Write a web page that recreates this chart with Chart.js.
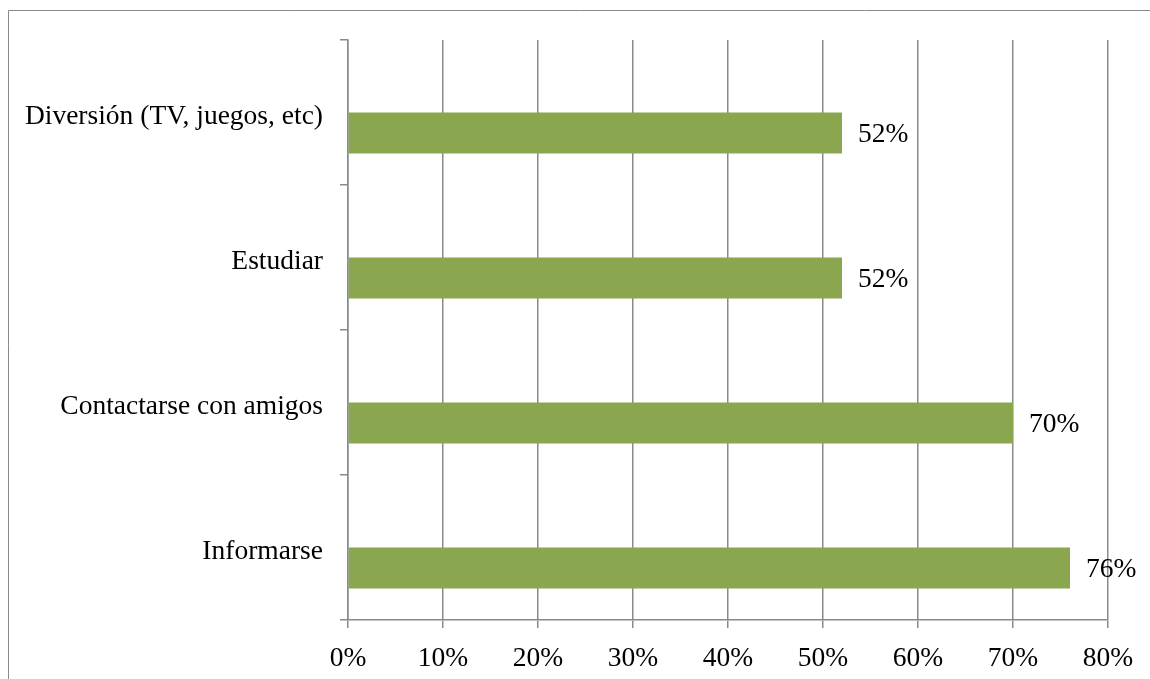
<!DOCTYPE html>
<html lang="es">
<head>
<meta charset="UTF-8">
<title>Usos de Internet</title>
<script src="https://cdn.jsdelivr.net/npm/chart.js"></script>
<style>
  html, body { margin: 0; padding: 0; background: #fff; }
  #wrap { width: 1150px; height: 679px; position: relative; }
</style>
</head>
<body>
<div id="wrap"><canvas id="chart" width="1150" height="679"></canvas></div>
<script>
// categorias de arriba hacia abajo
const categorias = ['Diversión (TV, juegos, etc)', 'Estudiar', 'Contactarse con amigos', 'Informarse'];
const porcentajes = [52, 52, 70, 76];
const serieVacia = [null, null, null, null];

const gris = '#8a8a8a';
const verde = '#8aa64f';
const fuente = { family: "'Liberation Serif', 'DejaVu Serif', serif", size: 27.5 };

// marco del grafico (solo arriba e izquierda se ven)
const marco = {
  id: 'marco',
  beforeDraw(chart) {
    const ctx = chart.ctx;
    ctx.save();
    ctx.strokeStyle = gris;
    ctx.lineWidth = 1;
    ctx.beginPath();
    ctx.moveTo(8.5, 679);
    ctx.lineTo(8.5, 10.5);
    ctx.lineTo(1150, 10.5);
    ctx.stroke();
    ctx.restore();
  }
};

// etiquetas de valor al final de cada barra
const etiquetas = {
  id: 'etiquetas',
  afterDatasetsDraw(chart) {
    const ctx = chart.ctx;
    const meta = chart.getDatasetMeta(1);
    ctx.save();
    ctx.font = fuente.size + 'px ' + fuente.family;
    ctx.fillStyle = '#000';
    ctx.textAlign = 'left';
    ctx.textBaseline = 'middle';
    meta.data.forEach((bar, i) => {
      ctx.fillText(porcentajes[i] + '%', bar.x + 16, bar.y + 2);
    });
    ctx.restore();
  }
};

new Chart(document.getElementById('chart'), {
  type: 'bar',
  data: {
    labels: categorias,
    datasets: [
      { label: 'vacía', data: serieVacia, backgroundColor: verde },
      { label: 'Porcentaje', data: porcentajes, backgroundColor: verde, borderWidth: 0 }
    ]
  },
  options: {
    indexAxis: 'y',
    responsive: false,
    animation: false,
    categoryPercentage: 0.566,
    barPercentage: 1,
    layout: { padding: { top: 40, right: 42, left: 0, bottom: 0 } },
    plugins: { legend: { display: false }, tooltip: { enabled: false } },
    scales: {
      x: {
        min: 0,
        max: 80,
        ticks: {
          stepSize: 10,
          color: '#000',
          font: fuente,
          padding: 14,
          callback: v => v + '%'
        },
        grid: { color: gris, lineWidth: 1.5, tickLength: 8 },
        border: { color: gris, width: 1.5 },
        afterFit: s => { s.height = 59; }
      },
      y: {
        ticks: { color: '#000', font: fuente, padding: 17, labelOffset: 4 },
        grid: { offset: true, drawOnChartArea: false, color: gris, lineWidth: 1.5, tickLength: 8 },
        border: { color: gris, width: 1.5 },
        afterFit: s => { s.width = 348; }
      }
    }
  },
  plugins: [marco, etiquetas]
});
</script>
</body>
</html>
